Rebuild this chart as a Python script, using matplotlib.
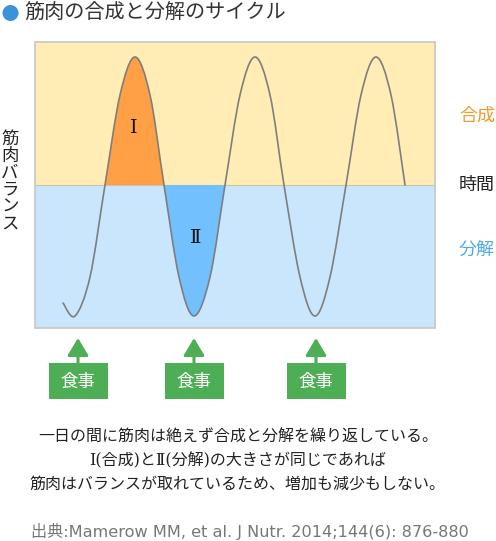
import numpy as np
import matplotlib
matplotlib.use("Agg")
import matplotlib.pyplot as plt
from matplotlib.path import Path
from matplotlib.patches import PathPatch, Rectangle, Ellipse, FancyArrowPatch
from matplotlib.transforms import blended_transform_factory

plt.rcParams['font.family'] = ['Noto Sans CJK JP', 'DejaVu Sans']

# ---- data ----
time = [28, 40, 55, 70, 85, 100, 115, 129, 144, 159, 175, 190, 205, 220, 235,
        249, 265, 280, 295, 311, 326, 341, 356, 370]
balance = [-1.18, -1.31, -0.92, 0.0, 0.90, 1.28, 0.90, 0.0, -0.92, -1.31, -0.92, 0.0,
           0.90, 1.28, 0.90, 0.0, -0.92, -1.31, -0.92, 0.0, 0.90, 1.28, 0.90, 0.0]
region1_range = (3, 7)    # indices of crossings bounding region I (synthesis)
region2_range = (7, 11)   # indices of crossings bounding region II (breakdown)
meal_times = [43, 159, 281]
meal_label = "食事"
right_labels = ["合成", "時間", "分解"]
y_label = "筋肉バランス"
title = "筋肉の合成と分解のサイクル"
caption = ["一日の間に筋肉は絶えず合成と分解を繰り返している。",
           "Ⅰ(合成)とⅡ(分解)の大きさが同じであれば",
           "筋肉はバランスが取れているため、増加も減少もしない。"]
source = "出典:Mamerow MM, et al. J Nutr. 2014;144(6): 876-880"

W, H = 496, 541
fig = plt.figure(figsize=(W / 100, H / 100), dpi=100)
fig.patch.set_facecolor("white")

ax = fig.add_axes([35 / W, 1 - 328 / H, 400 / W, 286 / H])
ax.set_xlim(0, 400)
ax.set_ylim(-1.43, 1.43)
ax.axis("off")

# background halves
ax.axhspan(0, 1.43, color="#FFEDB5", zorder=0, lw=0)
ax.axhspan(-1.43, 0, color="#C9E6FC", zorder=0, lw=0)
ax.axhline(0, color="#C9C2AE", lw=0.8, zorder=1)
ax.add_patch(Rectangle((0, 0), 1, 1, transform=ax.transAxes, fill=False,
                       ec="#C6C6C6", lw=1.2, zorder=5, clip_on=False))

pts = np.column_stack([time, balance]).astype(float)


def bezier_segments(i0, i1):
    verts, codes = [pts[i0]], [Path.MOVETO]
    n = len(pts)
    for i in range(i0, i1):
        p0 = pts[max(i - 1, 0)]
        p1 = pts[i]
        p2 = pts[i + 1]
        p3 = pts[min(i + 2, n - 1)]
        c1 = p1 + (p2 - p0) / 6.0
        c2 = p2 - (p3 - p1) / 6.0
        verts += [c1, c2, p2]
        codes += [Path.CURVE4] * 3
    return verts, codes


for (a, b), col in [(region1_range, "#FFA046"), (region2_range, "#73C0FF")]:
    v, c = bezier_segments(a, b)
    v.append(v[0]); c.append(Path.CLOSEPOLY)
    ax.add_patch(PathPatch(Path(v, c), fc=col, ec="none", zorder=2))

v, c = bezier_segments(0, len(pts) - 1)
ax.add_patch(PathPatch(Path(v, c), fc="none", ec="#7E7E7E", lw=1.2, zorder=3,
                       capstyle="round"))

# region labels
ax.text(99, 0.57, "Ⅰ", ha="center", va="center", fontsize=14,
        family=["DejaVu Serif", "Noto Sans CJK JP"], color="#111111", zorder=4)
ax.text(161, -0.53, "Ⅱ", ha="center", va="center", fontsize=14,
        family=["DejaVu Serif", "Noto Sans CJK JP"], color="#111111", zorder=4)

# meals
tr = blended_transform_factory(ax.transData, fig.transFigure)
green = "#4DAE55"
for t in meal_times:
    ax.add_patch(Rectangle((t - 29.5, 1 - 399 / H), 59, 36 / H, transform=tr,
                           fc=green, ec="none", clip_on=False))
    ax.text(t, 1 - 382 / H, meal_label, transform=tr, ha="center", va="center",
            color="white", fontsize=12.5, clip_on=False)
    arr = FancyArrowPatch((t, 1 - 364 / H), (t, 1 - 338 / H), transform=tr,
                          arrowstyle="-|>,head_length=0.75,head_width=0.45",
                          mutation_scale=14, color=green, lw=2.2,
                          shrinkA=0, shrinkB=0, clip_on=False)
    ax.add_patch(arr)

# title
fig.patches.append(Ellipse((10.5 / W, 1 - 13 / H), 16 / W, 16 / H,
                           transform=fig.transFigure, fc="#3B92D6", ec="none"))
fig.text(24 / W, 1 - 13 / H, title, ha="left", va="center", fontsize=14.5,
         color="#333333")

# y label (vertical)
fig.text(10 / W, 1 - 181 / H, "\n".join(y_label), ha="center", va="center",
         fontsize=12.5, linespacing=0.92, color="#222222")

# right labels
for lab, y, col in zip(right_labels, [116, 185, 251], ["#F39A2C", "#222222", "#4FAAE8"]):
    fig.text(477 / W, 1 - y / H, lab, ha="center", va="center", fontsize=13,
             color=col)

# caption
for s, y in zip(caption, [437, 461, 484]):
    fig.text(238 / W, 1 - y / H, s, ha="center", va="center", fontsize=11.5,
             color="#222222",
             family=["Noto Sans CJK JP", "DejaVu Serif"] if "Ⅰ" not in s
             else ["DejaVu Serif", "Noto Sans CJK JP"])
fig.text(250 / W, 1 - 531 / H, source, ha="center", va="center", fontsize=11.6,
         color="#777777", family=["DejaVu Sans", "Noto Sans CJK JP"])

fig.savefig("out.png", dpi=100, facecolor="white")
